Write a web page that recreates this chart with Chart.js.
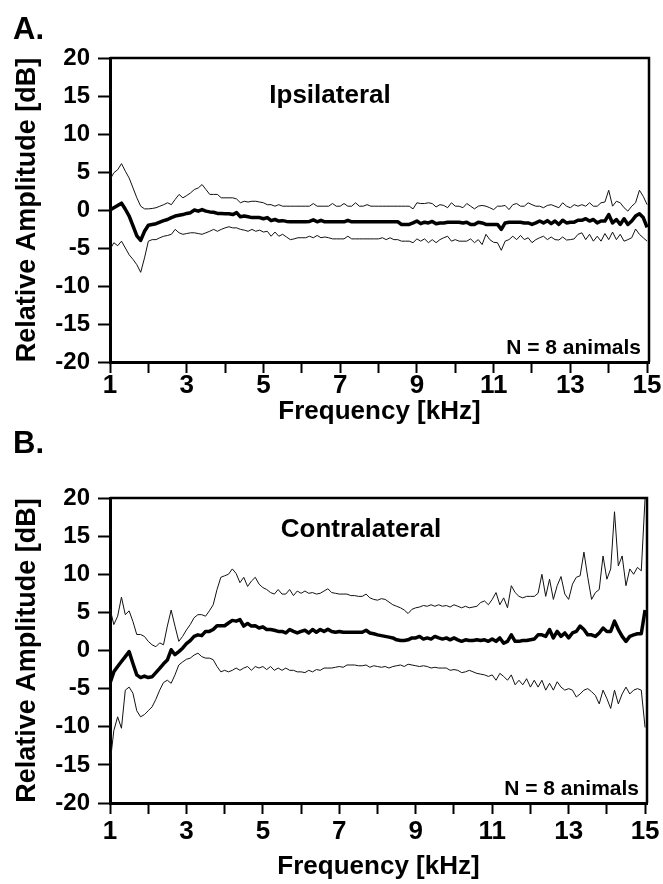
<!DOCTYPE html>
<html>
<head>
<meta charset="utf-8">
<script src="https://cdn.jsdelivr.net/npm/chart.js@4.4.0/dist/chart.umd.min.js"></script>
<style>
  body { margin: 0; background: #fff; width: 663px; height: 884px; position: relative; overflow: hidden; }
  canvas { position: absolute; left: 0; }
  #chartA { top: 0; }
  #chartB { top: 440px; }
  .panel { position: absolute; left: 13px; line-height: 30px; font: bold 31px 'Liberation Sans', Arial, sans-serif; }
</style>
</head>
<body>
<canvas id="chartA" width="663" height="440"></canvas>
<canvas id="chartB" width="663" height="444"></canvas>
<div class="panel" style="top:11px">A.</div>
<div class="panel" style="top:425px">B.</div>
<script>
const FUENTE = "'Liberation Sans', Arial, sans-serif";

// frecuencias de muestreo, 1.0 a 15.0 kHz cada 0.1
const frecuencias = Array.from({ length: 141 }, (_, i) => (10 + i) / 10);
const ticksX = [1, 2, 3, 4, 5, 6, 7, 8, 9, 10, 11, 12, 13, 14, 15];
const etiquetasX = ['1', '', '3', '', '5', '', '7', '', '9', '', '11', '', '13', '', '15'];
const ticksY = [-20, -15, -10, -5, 0, 5, 10, 15, 20];

// A. Ipsilateral
const ipsiMedia = [
  0.0, 0.3, 0.6, 0.9, 0.1, -0.8, -2.1, -3.4, -4.0, -2.8,
  -2.0, -1.9, -1.8, -1.6, -1.4, -1.25, -1.0, -0.8, -0.7, -0.6,
  -0.45, -0.35, 0.0, -0.15, 0.05, -0.15, -0.25, -0.3, -0.45, -0.45,
  -0.5, -0.5, -0.6, -0.35, -0.9, -0.8, -0.9, -1.0, -1.0, -1.0,
  -1.15, -1.0, -1.4, -1.25, -1.45, -1.4, -1.5, -1.55, -1.55, -1.55,
  -1.55, -1.55, -1.5, -1.3, -1.55, -1.35, -1.55, -1.55, -1.55, -1.55,
  -1.55, -1.55, -1.35, -1.55, -1.55, -1.55, -1.55, -1.55, -1.55, -1.55,
  -1.55, -1.55, -1.55, -1.55, -1.55, -1.55, -1.9, -1.9, -1.9, -1.7,
  -1.45, -1.8, -1.6, -1.7, -1.5, -1.8, -1.7, -1.7, -1.6, -1.6,
  -1.6, -1.6, -1.7, -1.6, -1.9, -1.9, -1.6, -1.7, -1.9, -1.9,
  -1.9, -1.9, -2.55, -1.7, -1.6, -1.6, -1.6, -1.6, -1.7, -1.7,
  -1.9, -1.7, -1.45, -1.7, -1.4, -1.8, -1.45, -1.9, -1.35, -1.7,
  -1.6, -1.6, -1.35, -1.35, -1.15, -1.45, -1.25, -1.7, -1.45, -1.45,
  -0.6, -1.7, -1.25, -1.9, -1.15, -1.9, -1.45, -0.8, -0.5, -1.0,
  -2.3
];
const ipsiSuperior = [
  4.0, 4.9, 5.3, 6.1, 5.1, 4.2, 2.9, 1.6, 0.5, 0.15,
  0.15, 0.2, 0.3, 0.5, 0.7, 0.95, 0.7, 1.4, 2.05, 1.6,
  1.9, 2.25, 2.7, 2.9, 3.35, 2.7, 2.05, 2.05, 2.05, 1.6,
  1.6, 1.6, 1.6, 1.45, 0.95, 1.15, 1.05, 1.15, 1.15, 1.05,
  0.95, 0.7, 0.7, 0.5, 0.7, 0.5, 0.5, 0.5, 0.5, 0.5,
  0.5, 0.5, 0.5, 0.85, 0.5, 0.5, 0.5, 0.5, 0.85, 0.5,
  0.5, 0.85, 0.5, 0.5, 0.95, 0.5, 0.5, 0.7, 0.5, 0.5,
  0.5, 0.5, 0.5, 0.5, 0.5, 0.5, 0.5, 0.5, 0.5, 0.15,
  0.95, 0.85, 0.85, 0.95, 0.85, 0.4, 0.7, 0.6, 0.3, 0.95,
  0.5, 0.5, 0.3, 0.85, 0.5, 0.15, 0.5, 0.6, 0.5, 0.3,
  0.05, 0.5, 0.5, 0.6, 0.05, 0.7, 0.85, 0.5, 0.5, 0.95,
  0.7, 0.5, 0.5, 0.3, 0.6, 0.7, 0.5, 0.3, 0.95, 0.5,
  0.3, 0.7, 0.5, 0.7, 0.5, 0.95, 0.5, 0.5, 0.95, 1.05,
  2.6, 0.5, 1.15, 0.95, 0.3, -0.15, 0.5, 0.95, 2.6, 1.8,
  0.7
];
const ipsiInferior = [
  -5.2, -4.3, -4.7, -4.1, -5.0, -5.9, -6.5, -7.2, -8.2, -6.3,
  -4.1, -3.9, -3.9, -3.65, -3.45, -3.35, -3.2, -2.55, -3.0, -3.2,
  -3.1, -3.0, -3.0, -3.1, -3.2, -3.0, -2.8, -2.55, -2.8, -2.55,
  -2.35, -2.2, -2.35, -2.35, -2.55, -2.65, -2.8, -2.55, -2.8, -2.65,
  -2.9, -2.8, -3.45, -2.9, -3.45, -3.2, -3.55, -3.9, -3.8, -3.65,
  -3.65, -3.65, -3.45, -3.65, -3.35, -3.65, -3.55, -3.65, -3.8, -3.8,
  -3.8, -3.8, -3.45, -3.8, -3.8, -3.8, -3.8, -3.8, -3.8, -3.8,
  -3.8, -3.65, -3.9, -3.65, -3.9, -3.9, -4.1, -4.1, -4.1, -4.3,
  -3.8, -4.1, -3.8, -4.3, -3.9, -4.3, -3.9, -3.65, -3.45, -4.1,
  -3.9, -4.1, -4.1, -4.1, -3.8, -4.3, -3.9, -4.55, -3.2, -3.9,
  -4.25, -4.3, -5.3, -4.1, -3.9, -3.45, -3.9, -3.35, -3.9, -3.65,
  -4.3, -3.9, -3.65, -3.45, -3.9, -3.55, -3.9, -3.95, -3.55, -3.95,
  -3.9, -3.8, -3.2, -3.0, -3.9, -3.2, -4.1, -3.45, -4.1, -3.1,
  -3.9, -2.9, -3.9, -3.2, -4.1, -3.9, -3.65, -2.5, -3.2, -3.65,
  -4.1
];

// B. Contralateral
const contraMedia = [
  -4.3, -2.8, -2.1, -1.45, -0.8, -0.15, -1.7, -3.2, -3.55, -3.35,
  -3.55, -3.45, -2.9, -2.35, -1.75, -1.25, 0.1, -0.55, -0.15, 0.3,
  0.9, 1.3, 1.85, 2.05, 1.95, 2.5, 2.5, 2.75, 3.25, 3.25,
  3.25, 3.6, 3.95, 3.85, 4.05, 3.2, 3.55, 3.2, 3.25, 2.95,
  3.1, 2.75, 2.75, 2.65, 2.5, 2.5, 2.3, 2.75, 2.5, 2.3,
  2.5, 2.65, 2.3, 2.75, 2.4, 2.75, 2.5, 2.8, 2.5, 2.4,
  2.5, 2.4, 2.4, 2.4, 2.4, 2.4, 2.4, 2.65, 2.3, 2.2,
  2.05, 1.95, 1.85, 1.75, 1.65, 1.4, 1.3, 1.3, 1.4, 1.65,
  1.65, 1.85, 1.5, 1.65, 1.5, 1.85, 1.65, 1.5, 1.65, 1.4,
  1.65, 1.4, 1.2, 1.4, 1.3, 1.3, 1.4, 1.3, 1.4, 1.2,
  1.5, 1.2, 1.65, 0.95, 1.2, 2.05, 1.2, 1.2, 1.3, 1.3,
  1.4, 1.5, 2.05, 2.05, 1.85, 2.75, 1.65, 2.5, 1.85, 2.3,
  1.65, 2.3, 2.5, 3.2, 2.75, 2.05, 2.05, 1.85, 2.3, 2.95,
  2.5, 2.5, 3.85, 2.75, 1.85, 1.2, 1.85, 2.05, 2.2, 2.2,
  5.3
];
const contraSuperior = [
  5.5, 3.4, 4.5, 7.0, 4.7, 5.2, 3.8, 2.1, 2.1, 1.85,
  1.2, 0.75, 0.5, 1.0, 0.75, 3.2, 5.3, 3.2, 1.2, 1.85,
  2.7, 3.4, 4.3, 4.7, 4.7, 4.5, 5.2, 6.0, 8.0, 9.6,
  9.8, 10.0, 10.7, 10.1, 8.9, 9.6, 8.4, 9.1, 9.6, 8.7,
  8.25, 8.0, 7.6, 7.4, 8.0, 7.4, 7.4, 8.0, 7.2, 7.8,
  7.5, 7.8, 7.5, 7.6, 7.4, 7.5, 7.8, 8.1, 7.6, 7.5,
  7.4, 7.4, 7.4, 7.2, 7.2, 7.1, 7.1, 7.4, 6.9, 6.7,
  6.6, 6.8, 6.7, 6.35, 6.0, 5.8, 5.6, 5.3, 4.85, 5.4,
  5.6, 5.7, 5.9, 5.8, 6.0, 5.8, 6.0, 5.8, 5.9, 5.7,
  6.0, 5.8, 5.6, 5.8, 5.6, 5.7, 5.8, 6.3, 6.5, 6.0,
  6.7, 7.6, 6.0, 6.9, 5.6, 8.5, 7.6, 7.1, 6.9, 7.1,
  7.1, 7.1, 7.5, 10.0, 7.1, 9.35, 6.7, 8.5, 9.7, 7.4,
  6.7, 8.7, 9.6, 9.8, 12.9, 9.6, 6.7, 7.6, 8.0, 12.4,
  9.35, 10.7, 18.2, 11.1, 12.4, 8.5, 10.7, 10.0, 10.9, 10.45,
  20.0
];
const contraInferior = [
  -14.9, -10.5, -8.7, -10.2, -5.2, -4.8, -5.6, -7.9, -8.7, -8.4,
  -7.9, -7.4, -6.4, -5.2, -4.2, -3.9, -4.3, -3.2, -1.9, -1.5,
  -1.15, -1.0, -0.6, -0.35, -0.8, -1.0, -1.0, -1.2, -2.1, -2.8,
  -2.6, -2.8, -2.6, -2.3, -2.6, -2.3, -2.1, -2.6, -2.1, -2.3,
  -2.1, -2.5, -2.1, -2.6, -2.3, -2.6, -2.3, -2.6, -2.6, -2.8,
  -2.8, -2.9, -2.6, -2.8, -2.5, -2.6, -2.3, -2.3, -2.3, -2.2,
  -2.1, -2.2, -1.9, -1.9, -1.9, -2.0, -2.0, -1.9, -2.2, -2.0,
  -2.1, -2.2, -2.1, -2.3, -2.1, -2.0, -1.9, -2.1, -1.8, -1.9,
  -2.0, -2.1, -2.0, -2.1, -2.3, -2.2, -2.3, -2.3, -2.3, -2.6,
  -2.5, -2.6, -2.9, -2.8, -2.6, -2.8, -3.0, -3.1, -3.2, -3.4,
  -3.2, -3.9, -3.0, -3.4, -3.9, -3.2, -4.5, -3.9, -4.5, -3.7,
  -4.8, -3.9, -4.8, -3.9, -5.2, -4.3, -5.2, -4.1, -4.8, -5.2,
  -5.0, -5.2, -6.1, -5.7, -5.2, -5.0, -5.4, -5.9, -7.0, -5.2,
  -6.3, -7.6, -5.2, -7.0, -5.7, -4.8, -5.7, -5.2, -5.0, -5.2,
  -10.1
];

const aPuntos = (serie) => serie.map((y, i) => ({ x: frecuencias[i], y }));

// marco superior/derecho y textos dentro del area
const marco = {
  id: 'marco',
  afterDraw(chart, args, opts) {
    const { ctx, chartArea: a } = chart;
    ctx.save();
    ctx.strokeStyle = '#000';
    ctx.lineWidth = 2.5;
    ctx.beginPath();
    ctx.moveTo(a.left, a.top);
    ctx.lineTo(a.right, a.top);
    ctx.lineTo(a.right, a.bottom);
    ctx.stroke();
    ctx.fillStyle = '#000';
    ctx.textBaseline = 'middle';
    ctx.textAlign = 'center';
    ctx.font = `bold 26px ${FUENTE}`;
    ctx.fillText(opts.titulo, opts.tituloX, a.top + opts.tituloDy);
    ctx.textAlign = 'right';
    ctx.font = `bold 21px ${FUENTE}`;
    ctx.fillText('N = 8 animals', a.right - 8, a.bottom - 14);
    ctx.restore();
  }
};

function crearPanel(id, media, superior, inferior, cfg) {
  const fina = { borderColor: '#111', borderWidth: 1, pointRadius: 0, tension: 0, fill: false };
  new Chart(document.getElementById(id), {
    type: 'line',
    data: {
      datasets: [
        { ...fina, label: 'Superior', data: aPuntos(superior) },
        { ...fina, label: 'Inferior', data: aPuntos(inferior) },
        {
          label: 'Media', data: aPuntos(media),
          borderColor: '#000', borderWidth: 3.5, pointRadius: 0, tension: 0,
          borderJoinStyle: 'round', fill: false,
        },
      ],
    },
    options: {
      responsive: false,
      animation: false,
      layout: { padding: { left: 0, right: cfg.derecha, top: 58, bottom: 0 } },
      plugins: {
        legend: { display: false },
        tooltip: { enabled: false },
        marco: { titulo: cfg.titulo, tituloX: cfg.tituloX, tituloDy: cfg.tituloDy },
      },
      scales: {
        x: {
          type: 'linear', min: 1, max: 15.05,
          afterBuildTicks: (s) => { s.ticks = ticksX.map((v) => ({ value: v })); },
          afterFit: (s) => { s.height = cfg.altoX; },
          border: { color: '#000', width: 3 },
          grid: { drawOnChartArea: false, drawTicks: true, tickLength: 11, tickColor: '#000', tickWidth: 2 },
          ticks: {
            color: '#000', padding: cfg.padTicks, autoSkip: false, maxRotation: 0,
            callback: (v, i) => etiquetasX[i],
            font: { family: FUENTE, size: 26, weight: 'bold' },
          },
          title: {
            display: true, text: 'Frequency [kHz]', color: '#000',
            font: { family: FUENTE, size: 26, weight: 'bold', lineHeight: 1 },
            padding: { top: 0, bottom: cfg.padTitulo },
          },
        },
        y: {
          min: -20, max: 20,
          afterBuildTicks: (s) => { s.ticks = ticksY.map((v) => ({ value: v })); },
          afterFit: (s) => { s.width = 110; },
          border: { color: '#000', width: 3 },
          grid: { drawOnChartArea: false, drawTicks: true, tickLength: 12, tickColor: '#000', tickWidth: 2 },
          ticks: { color: '#000', padding: 8, font: { family: FUENTE, size: 24, weight: 'bold' } },
          title: {
            display: true, text: 'Relative Amplitude [dB]', color: '#000',
            font: { family: FUENTE, size: 27, weight: 'bold', lineHeight: 1 },
            padding: { top: 14, bottom: 0 },
          },
        },
      },
    },
    plugins: [marco],
  });
}

crearPanel('chartA', ipsiMedia, ipsiSuperior, ipsiInferior,
  { titulo: 'Ipsilateral', tituloX: 330, tituloDy: 38, derecha: 14, altoX: 78, padTicks: -3, padTitulo: 15 });
crearPanel('chartB', contraMedia, contraSuperior, contraInferior,
  { titulo: 'Contralateral', tituloX: 361, tituloDy: 32, derecha: 16, altoX: 81, padTicks: 2, padTitulo: 4 });
</script>
</body>
</html>
